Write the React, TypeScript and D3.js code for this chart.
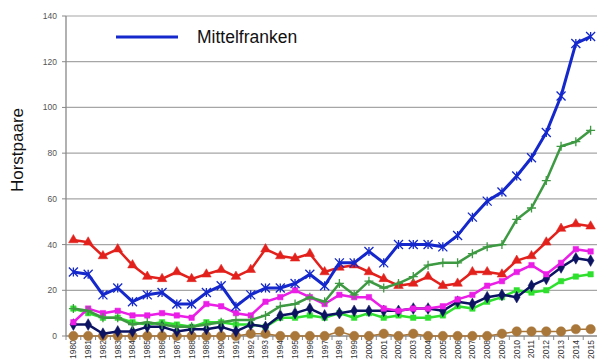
import React from "react";
import * as d3 from "d3";

const years: string[] = d3.range(1980, 2016).map(String);

const mittelfranken = [28,27,18,21,15,18,19,14,14,19,22,13,18,21,21,23,27,22,32,32,37,32,40,40,40,39,44,52,59,63,70,78,89,105,128,131];
const darkGreen = [12,11,8,8,5,6,5,4,4,5,6,7,7,9,13,14,17,15,23,18,24,21,23,26,31,32,32,36,39,40,51,56,68,83,85,90];
const red = [42,41,35,38,31,26,25,28,25,27,29,26,29,38,35,34,36,28,30,31,28,25,22,23,26,22,23,28,28,27,33,35,41,47,49,48];
const magenta = [6,12,10,11,9,9,10,9,8,14,13,10,9,15,17,20,17,14,18,17,17,12,11,12,12,13,16,18,22,24,28,31,27,32,38,37];
const navy = [5,5,1,2,2,4,4,2,3,3,4,2,5,4,9,10,12,9,10,11,11,11,11,12,12,11,15,14,17,18,17,22,25,30,34,33];
const lightGreen = [12,10,8,8,6,5,6,5,4,6,6,5,5,4,8,8,9,8,10,8,10,8,9,8,8,9,13,12,15,17,20,19,20,24,26,27];
const brown = [0,0,0,0,0,0,0,0,0,0,0,0,1,1,0,0,0,0,2,0,0,1,0,1,0,0,0,0,0,1,2,2,2,2,3,3];

const yTicks = [0, 20, 40, 60, 80, 100, 120, 140];

type Series = { name: string; values: number[]; color: string; marker: string; width: number };
const series: Series[] = [
  { name: "brown", values: brown, color: "#a9773a", marker: "circle", width: 1.5 },
  { name: "lightGreen", values: lightGreen, color: "#2fe02f", marker: "square", width: 2.5 },
  { name: "navy", values: navy, color: "#0c1462", marker: "diamond", width: 2.5 },
  { name: "magenta", values: magenta, color: "#ea1ee6", marker: "square", width: 2.5 },
  { name: "red", values: red, color: "#e3211c", marker: "triangle", width: 2.5 },
  { name: "darkGreen", values: darkGreen, color: "#3e9a42", marker: "plus", width: 2.5 },
  { name: "Mittelfranken", values: mittelfranken, color: "#1428cc", marker: "asterisk", width: 3 },
];

const W = 597, H = 363;
const left = 66, right = 598, top = 16, bottom = 336;

function markerPath(kind: string): string {
  const s = 4.5;
  switch (kind) {
    case "circle": return d3.symbol(d3.symbolCircle, 70)() as string;
    case "square": return d3.symbol(d3.symbolSquare, 30)() as string;
    case "diamond": return d3.symbol(d3.symbolDiamond, 40)() as string;
    case "triangle": return d3.symbol(d3.symbolTriangle, 40)() as string;
    case "plus": return `M${-s},0L${s},0M0,${-s}L0,${s}`;
    case "asterisk": return `M${-s},${-s}L${s},${s}M${-s},${s}L${s},${-s}M0,${-s}L0,${s}`;
  }
  return "";
}

export default function App() {
  const x = d3.scaleBand<string>().domain(years).range([left, right]).padding(0);
  const cx = (i: number) => (x(years[i]) as number) + x.bandwidth() / 2;
  const y = d3.scaleLinear().domain([0, 140]).range([bottom, top]);
  const line = d3.line<number>().x((_, i) => cx(i)).y((v) => y(v));
  const font = "'Liberation Sans', Arial, sans-serif";

  return (
    <svg width={W} height={H} style={{ position: "absolute", left: 0, top: 0, background: "#fff" }} fontFamily={font}>
      {yTicks.map((t) => (
        <g key={t}>
          {t > 0 && <line x1={left} x2={W} y1={y(t)} y2={y(t)} stroke="#a6a6a6" strokeWidth={1.2} />}
          <line x1={left - 4} x2={left} y1={y(t)} y2={y(t)} stroke="#888" />
          <text x={left - 9} y={y(t)} dy="0.35em" textAnchor="end" fontSize={8.5} fill="#555">{t}</text>
        </g>
      ))}
      <line x1={left} x2={left} y1={top} y2={bottom} stroke="#888" strokeWidth={1.3} />
      <line x1={left} x2={W} y1={bottom} y2={bottom} stroke="#888" strokeWidth={1.3} />
      {years.map((yr, i) => (
        <g key={yr}>
          <line x1={x(yr) as number} x2={x(yr) as number} y1={bottom} y2={bottom + 4} stroke="#888" />
          <text transform={`translate(${cx(i)},${bottom + 4}) rotate(-90)`} dy="0.35em" textAnchor="end" fontSize={8.5} fill="#333">{yr}</text>
        </g>
      ))}
      {series.map((s) => (
        <g key={s.name}>
          <path d={line(s.values) as string} fill="none" stroke={s.color} strokeWidth={s.width} strokeLinejoin="round" />
          {s.values.map((v, i) => {
            const isStroke = s.marker === "plus" || s.marker === "asterisk";
            return (
              <path key={i} d={markerPath(s.marker)} transform={`translate(${cx(i)},${y(v)})`}
                fill={isStroke ? "none" : s.color} stroke={s.color} strokeWidth={isStroke ? 1.3 : 0.5} />
            );
          })}
        </g>
      ))}
      <line x1={116} x2={178} y1={37} y2={37} stroke="#1428cc" strokeWidth={3} />
      <text x={197} y={43} fontSize={17.5} fill="#111">Mittelfranken</text>
      <text transform="translate(23,150) rotate(-90)" textAnchor="middle" fontSize={17} fill="#111">Horstpaare</text>
    </svg>
  );
}
